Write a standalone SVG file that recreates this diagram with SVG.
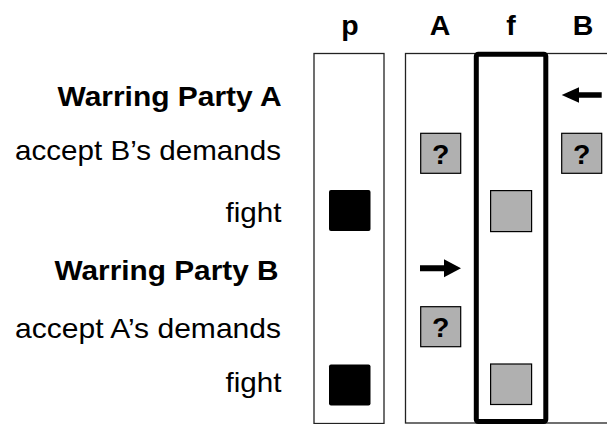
<svg xmlns="http://www.w3.org/2000/svg" width="607" height="424" viewBox="0 0 607 424">
<style>
.lbl{font-family:"Liberation Sans",Arial,Helvetica,sans-serif;font-size:28.5px;fill:#000}
.b{font-weight:bold}
.col{fill:#fff;stroke:#222;stroke-width:1.3}
.fcol{fill:none;stroke:#000;stroke-width:5}
.gray{fill:#b0b0b0;stroke:#000;stroke-width:1.2}
.blk{fill:#000}
.q{font-family:"Liberation Sans",Arial,Helvetica,sans-serif;font-size:28.5px;font-weight:bold;text-anchor:middle}
.arr{fill:#000}
</style>
<rect width="607" height="424" fill="#fff"/>
<g id="headers">
<text class="lbl b" x="350" y="34.5" text-anchor="middle">p</text>
<text class="lbl b" x="440" y="34.5" text-anchor="middle">A</text>
<text class="lbl b" x="511" y="34.5" text-anchor="middle">f</text>
<text class="lbl b" x="583" y="34.5" text-anchor="middle">B</text>
</g>
<g id="row-labels">
<text class="lbl b" x="281.5" y="106" text-anchor="end" textLength="224" lengthAdjust="spacingAndGlyphs">Warring Party A</text>
<text class="lbl" x="281" y="160" text-anchor="end" textLength="266" lengthAdjust="spacingAndGlyphs">accept B’s demands</text>
<text class="lbl" x="281.5" y="222" text-anchor="end" textLength="56" lengthAdjust="spacingAndGlyphs">fight</text>
<text class="lbl b" x="278.5" y="279.5" text-anchor="end" textLength="224" lengthAdjust="spacingAndGlyphs">Warring Party B</text>
<text class="lbl" x="281" y="338" text-anchor="end" textLength="266" lengthAdjust="spacingAndGlyphs">accept A’s demands</text>
<text class="lbl" x="281.5" y="392" text-anchor="end" textLength="56" lengthAdjust="spacingAndGlyphs">fight</text>
</g>
<g id="col-p">
<rect class="col" x="314" y="53.5" width="70" height="370"/>
<rect class="blk" x="329" y="190" width="41.5" height="41" rx="2"/>
<rect class="blk" x="329" y="364.5" width="41.5" height="41" rx="2"/>
</g>
<g id="col-AB">
<rect class="col" x="405.5" y="53.5" width="220" height="369.5"/>
</g>
<g id="col-f">
<rect class="fcol" x="476.3" y="54.2" width="69.5" height="367.3" rx="2"/>
<rect class="gray" x="490.6" y="190.6" width="41" height="41"/>
<rect class="gray" x="490.6" y="364" width="41" height="40.5"/>
</g>
<g id="col-A">
<rect class="gray" x="420.7" y="133.3" width="40" height="40"/>
<text class="q" x="440.7" y="164">?</text>
<rect class="gray" x="420.7" y="306.7" width="40" height="40"/>
<text class="q" x="440.7" y="337.3">?</text>
</g>
<g id="col-B">
<rect class="gray" x="561.7" y="133.3" width="40" height="40"/>
<text class="q" x="581.7" y="164">?</text>
</g>
<g id="connectors">
<path class="arr" d="M420,265.3 H444 V259.3 L461,268.3 L444,277.3 V271.3 H420 Z"/>
<path class="arr" d="M601.7,92.3 H579 V87.3 L561.7,95 L579,102.7 V97.7 H601.7 Z"/>
</g>
</svg>
